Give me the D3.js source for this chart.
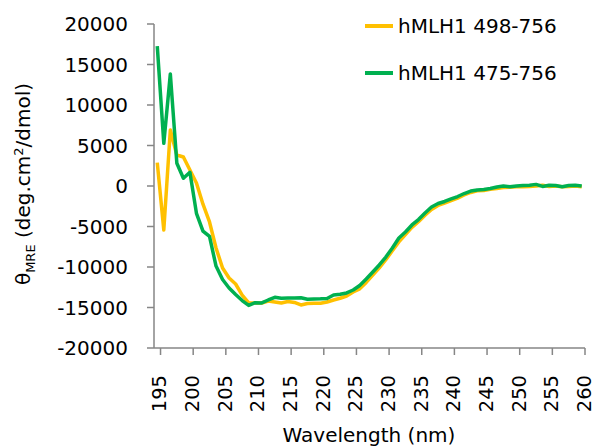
<!DOCTYPE html>
<html>
<head>
<meta charset="utf-8">
<script src="https://cdn.jsdelivr.net/npm/d3@7"></script>
<style>
  body { margin: 0; background: #fff; }
  text { font-family: "DejaVu Sans", sans-serif; fill: #000; }
</style>
</head>
<body>
<svg width="595" height="447"></svg>
<script>
// CD spectra, wavelength categories (nm)
var wavelengths = [195,196,197,198,199,200,201,202,203,204,205,206,207,208,209,210,
  211,212,213,214,215,216,217,218,219,220,221,222,223,224,225,226,227,228,229,230,
  231,232,233,234,235,236,237,238,239,240,241,242,243,244,245,246,247,248,249,250,
  251,252,253,254,255,256,257,258,259,260];

var series498 = [2880,-5430,6910,3830,3580,1975,370,-2250,-4440,-7650,-10120,-11360,-12100,-13460,-14440,-14440,
  -14440,-14200,-14320,-14440,-14260,-14380,-14690,-14500,-14480,-14480,-14320,-14070,-13860,-13580,-13090,-12700,-11900,-11000,-10100,-9100,
  -8000,-6900,-6000,-5100,-4400,-3600,-2900,-2400,-2100,-1800,-1500,-1100,-800,-600,-550,-400,-300,-200,-150,-100,
  -100,-50,0,100,-50,0,-100,-50,0,-100];

var series475 = [17280,5270,13830,2800,950,1690,-3370,-5560,-6230,-9880,-11540,-12590,-13400,-14140,-14750,-14400,
  -14440,-14070,-13740,-13860,-13830,-13830,-13800,-13990,-13950,-13930,-13890,-13460,-13370,-13200,-12840,-12280,-11480,-10620,-9750,-8770,
  -7650,-6420,-5680,-4810,-4140,-3330,-2590,-2160,-1910,-1600,-1300,-930,-620,-490,-430,-310,-120,0,-100,0,
  50,100,200,-50,100,50,-100,50,100,0];

var yTicks = [-20000,-15000,-10000,-5000,0,5000,10000,15000,20000];
var xTickLabels = [195,200,205,210,215,220,225,230,235,240,245,250,255,260];
var names = ['hMLH1 498-756', 'hMLH1 475-756'];
var colors = ['#FFC000', '#00B050'];

var svg = d3.select('svg');
var axisColor = '#868686';

var x = d3.scaleBand()
    .domain(wavelengths)
    .range([154, 585])
    .padding(0);

var y = d3.scaleLinear()
    .domain([-20000, 20000])
    .range([348, 24]);

// axes
svg.append('line')
    .attr('x1', 154).attr('x2', 154)
    .attr('y1', y(20000)).attr('y2', y(-20000))
    .attr('stroke', axisColor).attr('stroke-width', 1.5);

svg.append('line')
    .attr('x1', 154).attr('x2', 585)
    .attr('y1', y(-20000)).attr('y2', y(-20000))
    .attr('stroke', axisColor).attr('stroke-width', 1.5);

svg.selectAll('.ytick')
    .data(yTicks)
    .enter()
    .append('line')
    .attr('x1', 147).attr('x2', 154)
    .attr('y1', function(d) { return y(d); })
    .attr('y2', function(d) { return y(d); })
    .attr('stroke', axisColor).attr('stroke-width', 1.5);

svg.selectAll('.ylab')
    .data(yTicks)
    .enter()
    .append('text')
    .attr('x', 128)
    .attr('y', function(d) { return y(d); })
    .attr('dy', '0.36em')
    .attr('text-anchor', 'end')
    .style('font-size', '20px')
    .text(function(d) { return d; });

// x ticks sit on the right edge of each labelled category
svg.selectAll('.xtick')
    .data(xTickLabels)
    .enter()
    .append('line')
    .attr('x1', function(d) { return x(d) + x.bandwidth(); })
    .attr('x2', function(d) { return x(d) + x.bandwidth(); })
    .attr('y1', 348).attr('y2', 355)
    .attr('stroke', axisColor).attr('stroke-width', 1.5);

svg.selectAll('.xlab')
    .data(xTickLabels)
    .enter()
    .append('text')
    .attr('transform', function(d) {
        return 'translate(' + (x(d) + x.bandwidth()) + ',375) rotate(-90)';
    })
    .attr('dy', '0.3em')
    .attr('text-anchor', 'end')
    .style('font-size', '19.5px')
    .text(function(d) { return d; });

svg.append('text')
    .attr('x', 369).attr('y', 442)
    .attr('text-anchor', 'middle')
    .style('font-size', '20px')
    .text('Wavelength (nm)');

var ylab = svg.append('text')
    .attr('transform', 'translate(30,184) rotate(-90)')
    .attr('text-anchor', 'middle')
    .style('font-size', '20px');
ylab.append('tspan').text('θ');
ylab.append('tspan').attr('dy', 5).style('font-size', '13px').text('MRE');
ylab.append('tspan').attr('dy', -5).text(' (deg.cm');
ylab.append('tspan').attr('dy', -7).style('font-size', '13px').text('2');
ylab.append('tspan').attr('dy', 7).text('/dmol)');

// lines
var line = d3.line()
    .x(function(d, i) { return x(wavelengths[i]) + x.bandwidth() / 2; })
    .y(function(d) { return y(d); });

[series498, series475].forEach(function(s, i) {
    svg.append('path')
        .datum(s)
        .attr('d', line)
        .attr('fill', 'none')
        .attr('stroke', colors[i])
        .attr('stroke-width', 3.5)
        .attr('stroke-linejoin', 'round');
});

// legend
var legendY = [26, 73];
names.forEach(function(n, i) {
    svg.append('line')
        .attr('x1', 365).attr('x2', 393)
        .attr('y1', legendY[i]).attr('y2', legendY[i])
        .attr('stroke', colors[i]).attr('stroke-width', 4);
    svg.append('text')
        .attr('x', 398).attr('y', legendY[i] + 7)
        .style('font-size', '20px')
        .text(n);
});
</script>
</body>
</html>
